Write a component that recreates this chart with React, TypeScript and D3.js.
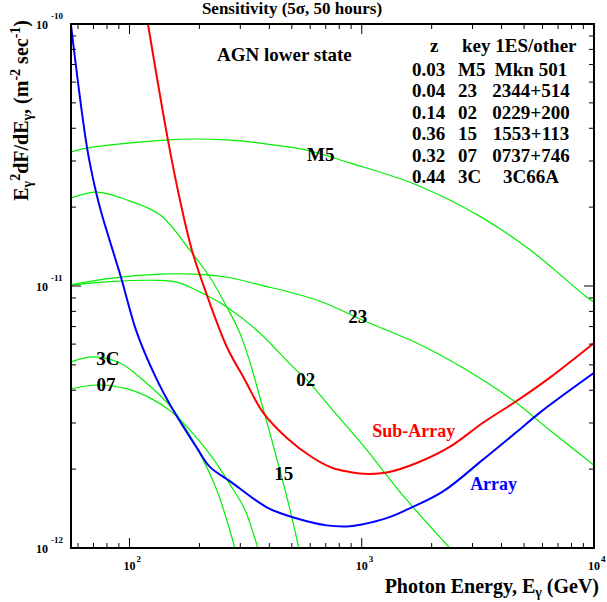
import * as d3 from 'd3';

// Sensitivity curves (E in GeV, E^2 dF/dE in m^-2 s^-1)
const arrayCurve: [number, number][] = [
  [56, 9.9e-11], [65.7, 3.36e-11], [71.8, 2.28e-11], [76.1, 1.87e-11], [91.9, 1.08e-11],
  [107.7, 6.62e-12], [131.3, 4.38e-12], [152.3, 3.42e-12], [195.1, 2.41e-12], [221.9, 2.04e-12],
  [270.6, 1.8e-12], [390, 1.43e-12], [505, 1.31e-12], [707, 1.22e-12], [888, 1.21e-12],
  [1000, 1.23e-12], [1281, 1.3e-12], [1562, 1.4e-12], [2231, 1.64e-12], [3315, 2.17e-12],
  [4642, 2.77e-12], [5830, 3.28e-12], [10000, 4.66e-12],
];
const subArrayCurve: [number, number][] = [
  [120.1, 1.0e-10], [146.4, 3.61e-11], [164.9, 2.13e-11], [185.7, 1.37e-11], [215.4, 9.24e-12],
  [262.7, 5.85e-12], [314, 4.38e-12], [375, 3.3e-12], [476, 2.63e-12], [616, 2.21e-12],
  [750, 2.02e-12], [888, 1.95e-12], [1010, 1.92e-12], [1281, 1.94e-12], [1725, 2.11e-12],
  [2391, 2.43e-12], [3315, 3.0e-12], [4642, 3.64e-12], [6436, 4.46e-12], [10000, 6.06e-12],
];

// AGN spectra (lower state)
const m5: [number, number][] = [
  [56, 3.25e-11], [65.7, 3.36e-11], [146.4, 3.61e-11], [187.6, 3.64e-11], [262.7, 3.61e-11],
  [364, 3.51e-11], [580, 3.3e-11], [888, 2.95e-11], [1725, 2.43e-11], [3315, 1.82e-11],
  [5440, 1.35e-11], [9284, 9.08e-12], [10000, 8.69e-12],
];
const s23: [number, number][] = [
  [56, 1.01e-11], [82.4, 1.07e-11], [135.3, 1.11e-11], [187.6, 1.11e-11], [262.7, 1.08e-11],
  [364, 1.01e-11], [640, 8.84e-12], [1051, 7.29e-12], [1725, 6.06e-12], [2828, 4.78e-12],
  [4462, 3.67e-12], [6436, 2.82e-12], [10000, 2.07e-12],
];
const s02: [number, number][] = [
  [56, 1.01e-11], [82.4, 1.04e-11], [135.3, 1.05e-11], [160.1, 1.035e-11], [221.9, 9.08e-12],
  [262.7, 8.31e-12], [364, 6.62e-12], [505, 4.91e-12], [580, 4.38e-12], [750, 3.36e-12],
  [1051, 2.37e-12], [1457, 1.64e-12], [2391, 1.0e-12],
];
const s15: [number, number][] = [
  [56, 2.17e-11], [72.5, 2.28e-11], [97.5, 2.13e-11], [135.3, 1.87e-11], [182, 1.37e-11],
  [221.9, 1.08e-11], [262.7, 8.31e-12], [298.7, 6.62e-12], [329.9, 5.13e-12], [364.1, 3.77e-12],
  [402.1, 2.75e-12], [444, 1.98e-12], [490.2, 1.41e-12], [535.8, 1.0e-12],
];
const s3C: [number, number][] = [
  [56, 5.13e-12], [69.6, 5.36e-12], [91, 5.08e-12], [114.3, 4.38e-12], [152.3, 3.42e-12],
  [195.1, 2.41e-12], [237.8, 1.66e-12], [284.3, 1.0e-12],
];
const s07: [number, number][] = [
  [56, 4.05e-12], [72.5, 4.19e-12], [97.5, 4.05e-12], [122.5, 3.74e-12], [152.3, 3.3e-12],
  [182, 2.82e-12], [221.9, 2.28e-12], [270.6, 1.75e-12], [314, 1.4e-12], [357, 1.0e-12],
];

const greenSeries = [m5, s23, s02, s15, s3C, s07];

// curve labels: [text, E, F]
const curveLabels: [string, number, number][] = [
  ['M5', 666, 3.0e-11], ['23', 961, 7.22e-12], ['02', 574, 4.15e-12],
  ['15', 462, 1.82e-12], ['3C', 80.8, 5.0e-12], ['07', 79.2, 3.97e-12],
];

// source table
const tableZ = ['0.03', '0.04', '0.14', '0.36', '0.32', '0.44'];
const tableKey = ['M5', '23', '02', '15', '07', '3C'];
const tableName = ['Mkn 501', '2344+514', '0229+200', '1553+113', '0737+746', '3C66A'];

const xMajor = [100, 1000, 10000];
const xMajorExp = ['2', '3', '4'];
const yMajor = [1e-10, 1e-11, 1e-12];
const yMajorExp = ['-10', '-11', '-12'];

const W = 607, H = 602;
const L = 71, R = 594, T = 24, B = 548;
const FONT = '"Liberation Serif", "Times New Roman", serif';

export default function App() {
  const x = d3.scaleLog().domain([56, 10000]).range([L, R]);
  const y = d3.scaleLog().domain([1e-12, 1e-10]).range([B, T]);
  const line = d3.line<[number, number]>()
    .x(d => x(d[0]))
    .y(d => y(d[1]))
    .curve(d3.curveCatmullRom.alpha(0.5));

  const xMinor: number[] = [];
  for (const dec of [10, 100, 1000]) for (let m = 2; m <= 9; m++) {
    const v = dec * m;
    if (v > 56 && v < 10000) xMinor.push(v);
  }
  const yMinor: number[] = [];
  for (const dec of [1e-12, 1e-11]) for (let m = 2; m <= 9; m++) yMinor.push(dec * m);

  const maj = 10, mnr = 5;

  return (
    <svg width={W} height={H} style={{position: 'absolute', left: 0, top: 0, background: '#fff'}}
         fontFamily={FONT} fontWeight="bold">
      <defs>
        <clipPath id="plot"><rect x={L} y={T} width={R - L} height={B - T}/></clipPath>
      </defs>
      <rect x={0} y={0} width={W} height={H} fill="#fff"/>

      <g clipPath="url(#plot)" fill="none">
        {greenSeries.map((s, i) => (
          <path key={i} d={line(s) || ''} stroke="#00ee00" strokeWidth={1.2}/>
        ))}
        <path d={line(subArrayCurve) || ''} stroke="#ff0000" strokeWidth={2}/>
        <path d={line(arrayCurve) || ''} stroke="#0000ff" strokeWidth={2}/>
      </g>

      {/* ticks */}
      <g stroke="#000" strokeWidth={1}>
        {xMajor.concat(xMinor).map((v, i) => {
          const len = xMajor.includes(v) ? maj : mnr;
          return (
            <g key={'x' + i}>
              <line x1={x(v)} x2={x(v)} y1={B} y2={B - len}/>
              <line x1={x(v)} x2={x(v)} y1={T} y2={T + len}/>
            </g>
          );
        })}
        {yMajor.concat(yMinor).map((v, i) => {
          const len = yMajor.includes(v) ? maj : mnr;
          return (
            <g key={'y' + i}>
              <line x1={L} x2={L + len} y1={y(v)} y2={y(v)}/>
              <line x1={R} x2={R - len} y1={y(v)} y2={y(v)}/>
            </g>
          );
        })}
      </g>
      <rect x={L} y={T} width={R - L} height={B - T} fill="none" stroke="#000" strokeWidth={2}/>

      {/* tick labels */}
      {xMajor.map((v, i) => (
        <g key={'xl' + i}>
          <text x={x(v)} y={570} fontSize={12} textAnchor="middle">10</text>
          <text x={x(v) + 7} y={562} fontSize={9}>{xMajorExp[i]}</text>
        </g>
      ))}
      {yMajor.map((v, i) => (
        <g key={'yl' + i}>
          <text x={48} y={y(v) + 5} fontSize={12} textAnchor="end">10</text>
          <text x={51} y={y(v) - 5} fontSize={9}>{yMajorExp[i]}</text>
        </g>
      ))}

      {/* titles */}
      <text x={292} y={14} fontSize={17} textAnchor="middle">Sensitivity (5σ, 50 hours)</text>
      <text x={599} y={593} fontSize={20} textAnchor="end">
        Photon Energy, E<tspan dy={4} fontSize={14}>γ</tspan><tspan dy={-4}> (GeV)</tspan>
      </text>
      <text transform="translate(28,20) rotate(-90)" fontSize={20} textAnchor="end">
        E<tspan dy={4} fontSize={14}>γ</tspan>
        <tspan dy={-12} fontSize={14}>2</tspan>
        <tspan dy={8}>dF/dE</tspan>
        <tspan dy={4} fontSize={14}>γ</tspan>
        <tspan dy={-4}>, (m</tspan>
        <tspan dy={-8} fontSize={14}>-2</tspan>
        <tspan dy={8}> sec</tspan>
        <tspan dy={-8} fontSize={14}>-1</tspan>
        <tspan dy={8}>)</tspan>
      </text>

      <text x={217} y={61} fontSize={19}>AGN lower state</text>

      {/* source table */}
      <text x={430} y={52} fontSize={19}>z</text>
      <text x={462} y={52} fontSize={19}>key 1ES/other</text>
      {tableZ.map((z, i) => (
        <g key={'t' + i} fontSize={19}>
          <text x={412} y={76 + i * 21.4}>{z}</text>
          <text x={458} y={76 + i * 21.4}>{tableKey[i]}</text>
          <text x={531} y={76 + i * 21.4} textAnchor="middle">{tableName[i]}</text>
        </g>
      ))}

      {/* curve labels */}
      {curveLabels.map(([t, e, f], i) => (
        <text key={'c' + i} x={x(e)} y={y(f)} fontSize={19} textAnchor="middle">{t}</text>
      ))}
      <text x={x(1674)} y={y(2.65e-12)} fontSize={18} textAnchor="middle" fill="#ff0000">Sub-Array</text>
      <text x={x(3697)} y={y(1.66e-12)} fontSize={18} textAnchor="middle" fill="#0000ff">Array</text>
    </svg>
  );
}
